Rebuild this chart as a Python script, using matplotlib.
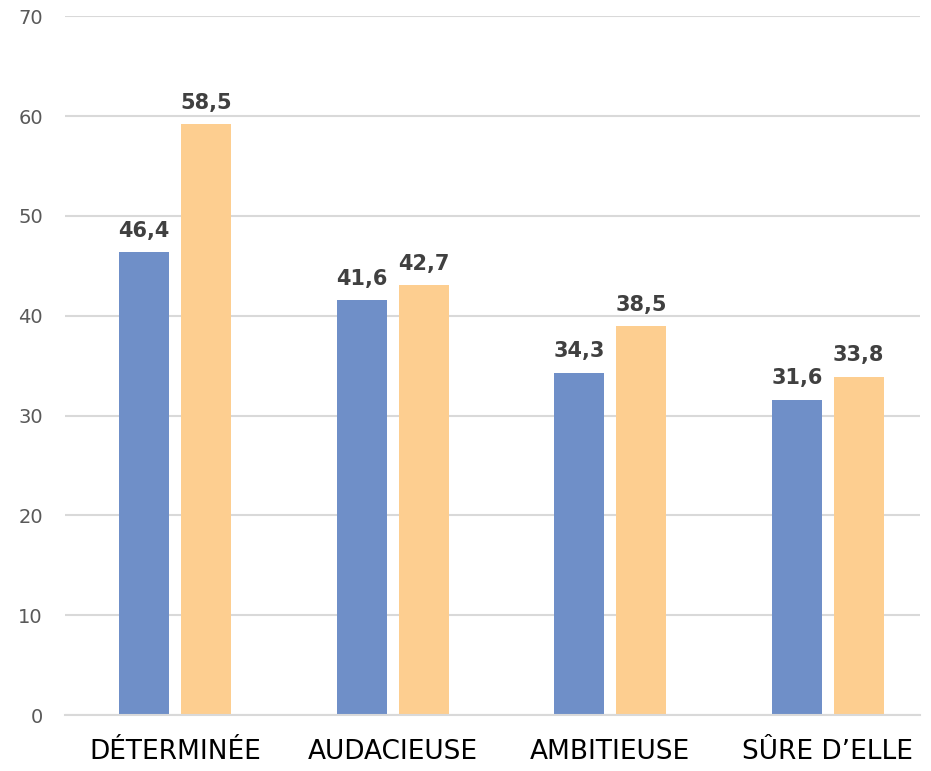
import matplotlib

matplotlib.use("Agg")
import matplotlib.pyplot as plt
import numpy as np

CATEGORIES = ["DÉTERMINÉE", "AUDACIEUSE", "AMBITIEUSE", "SÛRE D’ELLE"]
BLUE_VALUES = [46.4, 41.6, 34.3, 31.6]
ORANGE_VALUES = [59.2, 43.1, 39.0, 33.9]  # bar heights as drawn
BLUE_LABELS = ["46,4", "41,6", "34,3", "31,6"]
ORANGE_LABELS = ["58,5", "42,7", "38,5", "33,8"]
Y_TICKS = [0, 10, 20, 30, 40, 50, 60, 70]

BLUE = "#6F8FC8"
ORANGE = "#FDCE90"
GRID = "#D9D9D9"

fig = plt.figure(figsize=(9.31, 7.71), dpi=100)
ax = fig.add_axes([0.07, 0.0726, 0.918, 0.9064])

x = np.arange(len(CATEGORIES))
width = 0.23
offset = 0.142
blue_bars = ax.bar(x - offset, BLUE_VALUES, width, color=BLUE, zorder=3)
orange_bars = ax.bar(x + offset, ORANGE_VALUES, width, color=ORANGE, zorder=3)

for bars, labels in ((blue_bars, BLUE_LABELS), (orange_bars, ORANGE_LABELS)):
    for bar, text in zip(bars, labels):
        ax.annotate(text, (bar.get_x() + bar.get_width() / 2, bar.get_height()),
                    xytext=(0, 8), textcoords="offset points",
                    ha="center", va="bottom", fontsize=15, fontweight="bold",
                    color="#404040")

ax.set_xlim(-0.505, 3.423)
ax.set_ylim(0, 70)
ax.set_yticks(Y_TICKS)
ax.set_xticks(x)
ax.set_xticklabels(CATEGORIES, fontsize=19, color="black")
ax.tick_params(axis="y", labelsize=14, labelcolor="#595959", length=0, pad=16)
ax.tick_params(axis="x", length=0, pad=17)
ax.yaxis.grid(True, color=GRID, linewidth=1.5, zorder=0)
for side in ("top", "right", "left"):
    ax.spines[side].set_visible(False)
ax.spines["bottom"].set_color(GRID)
ax.spines["bottom"].set_linewidth(1.5)
ax.spines["bottom"].set_zorder(4)

fig.savefig("out.png", dpi=100)
